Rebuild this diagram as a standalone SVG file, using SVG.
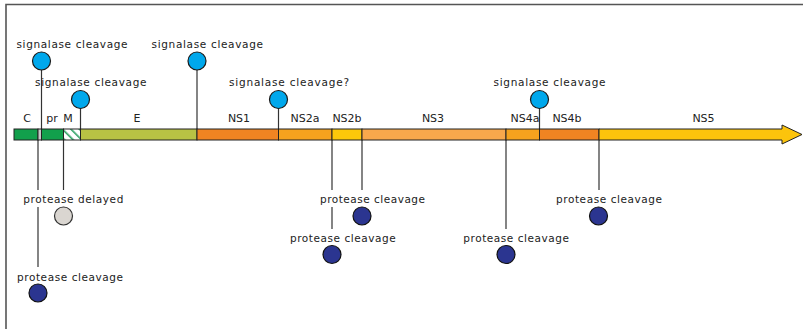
<svg xmlns="http://www.w3.org/2000/svg" width="803" height="329" viewBox="0 0 803 329">
<style>
text{font-family:"DejaVu Sans","Verdana",sans-serif;font-size:10.5px;fill:#222}
.seg{font-size:11px;text-anchor:middle}
.ln{stroke:#333;stroke-width:1.2;fill:none}
.sig{fill:#00a8ec;stroke:#1a1a1a;stroke-width:1.2}
.pro{fill:#2b3590;stroke:#111;stroke-width:1.2}
.del{fill:#dad6d1;stroke:#333;stroke-width:1.2}
.bar{stroke:#222;stroke-width:1}
</style>
<defs>
<pattern id="hatch" width="6" height="6" patternUnits="userSpaceOnUse" patternTransform="rotate(-45)">
<rect width="6" height="6" fill="#fff"/>
<rect width="1.6" height="6" fill="#2aa060"/>
</pattern>
</defs>
<rect width="803" height="329" fill="#fff"/>
<path d="M6,329 V4.5 H803" fill="none" stroke="#555" stroke-width="1.6"/>

<g id="connectors">
<line class="ln" x1="41.5" y1="70" x2="41.5" y2="129"/>
<line class="ln" x1="80.5" y1="108" x2="80.5" y2="129"/>
<line class="ln" x1="197" y1="70" x2="197" y2="129"/>
<line class="ln" x1="278.5" y1="108" x2="278.5" y2="129"/>
<line class="ln" x1="539.5" y1="108" x2="539.5" y2="129"/>
<line class="ln" x1="38" y1="140" x2="38" y2="190"/>
<line class="ln" x1="38" y1="207" x2="38" y2="267"/>
<line class="ln" x1="63.5" y1="140" x2="63.5" y2="190"/>
<line class="ln" x1="332" y1="140" x2="332" y2="190"/>
<line class="ln" x1="332" y1="207" x2="332" y2="229"/>
<line class="ln" x1="362" y1="140" x2="362" y2="190"/>
<line class="ln" x1="506" y1="140" x2="506" y2="229"/>
<line class="ln" x1="599" y1="140" x2="599" y2="190"/>
</g>

<g id="polyprotein">
<rect class="bar" x="14" y="129" width="24" height="11" fill="#12a04c"/>
<rect class="bar" x="38" y="129" width="3.5" height="11" fill="#c8c8c8"/>
<rect class="bar" x="41.5" y="129" width="22" height="11" fill="#12a04c"/>
<rect class="bar" x="63.5" y="129" width="17" height="11" fill="url(#hatch)"/>
<rect class="bar" x="80.5" y="129" width="116.5" height="11" fill="#b8c244"/>
<rect class="bar" x="197" y="129" width="81.5" height="11" fill="#f08422"/>
<rect class="bar" x="278.5" y="129" width="53.5" height="11" fill="#f5a21e"/>
<rect class="bar" x="332" y="129" width="30" height="11" fill="#fcc80a"/>
<rect class="bar" x="362" y="129" width="144" height="11" fill="#f8a84c"/>
<rect class="bar" x="506" y="129" width="33.5" height="11" fill="#f5a21e"/>
<rect class="bar" x="539.5" y="129" width="59.5" height="11" fill="#f08422"/>
<path class="bar" d="M599,129 H782 V125 L802,134.5 L782,144 V140 H599 Z" fill="#fcc40c"/>
<text class="seg" x="27" y="122">C</text>
<text class="seg" x="52" y="122">pr</text>
<text class="seg" x="68" y="122">M</text>
<text class="seg" x="137" y="122">E</text>
<text class="seg" x="239" y="122">NS1</text>
<text class="seg" x="305" y="122">NS2a</text>
<text class="seg" x="347" y="122">NS2b</text>
<text class="seg" x="433" y="122">NS3</text>
<text class="seg" x="525" y="122">NS4a</text>
<text class="seg" x="567" y="122">NS4b</text>
<text class="seg" x="703.5" y="122">NS5</text>
</g>

<g id="sig1"><circle class="sig" cx="41.5" cy="61" r="9"/><text x="16.5" y="47.5" textLength="111" lengthAdjust="spacing">signalase cleavage</text></g>
<g id="sig2"><circle class="sig" cx="80.5" cy="99.5" r="9"/><text x="35" y="86" textLength="111.5" lengthAdjust="spacing">signalase cleavage</text></g>
<g id="sig3"><circle class="sig" cx="197" cy="61" r="9"/><text x="151.5" y="47.5" textLength="111.5" lengthAdjust="spacing">signalase cleavage</text></g>
<g id="sig4"><circle class="sig" cx="278.5" cy="99.5" r="9"/><text x="229" y="86" textLength="120" lengthAdjust="spacing">signalase cleavage?</text></g>
<g id="sig5"><circle class="sig" cx="539.5" cy="99.5" r="9"/><text x="493.5" y="86" textLength="112" lengthAdjust="spacing">signalase cleavage</text></g>

<g id="pro1"><circle class="pro" cx="38" cy="293" r="9"/><text x="17" y="281" textLength="106" lengthAdjust="spacing">protease cleavage</text></g>
<g id="del1"><circle class="del" cx="63.5" cy="216" r="9"/><text x="23.3" y="203" textLength="100" lengthAdjust="spacing">protease delayed</text></g>
<g id="pro2"><circle class="pro" cx="332" cy="254.5" r="9"/><text x="290" y="242" textLength="105.7" lengthAdjust="spacing">protease cleavage</text></g>
<g id="pro3"><circle class="pro" cx="362" cy="216" r="9"/><text x="320" y="203" textLength="105" lengthAdjust="spacing">protease cleavage</text></g>
<g id="pro4"><circle class="pro" cx="506" cy="254.5" r="9"/><text x="463.3" y="242" textLength="105.7" lengthAdjust="spacing">protease cleavage</text></g>
<g id="pro5"><circle class="pro" cx="598.5" cy="216" r="9"/><text x="556" y="203" textLength="106" lengthAdjust="spacing">protease cleavage</text></g>
</svg>
